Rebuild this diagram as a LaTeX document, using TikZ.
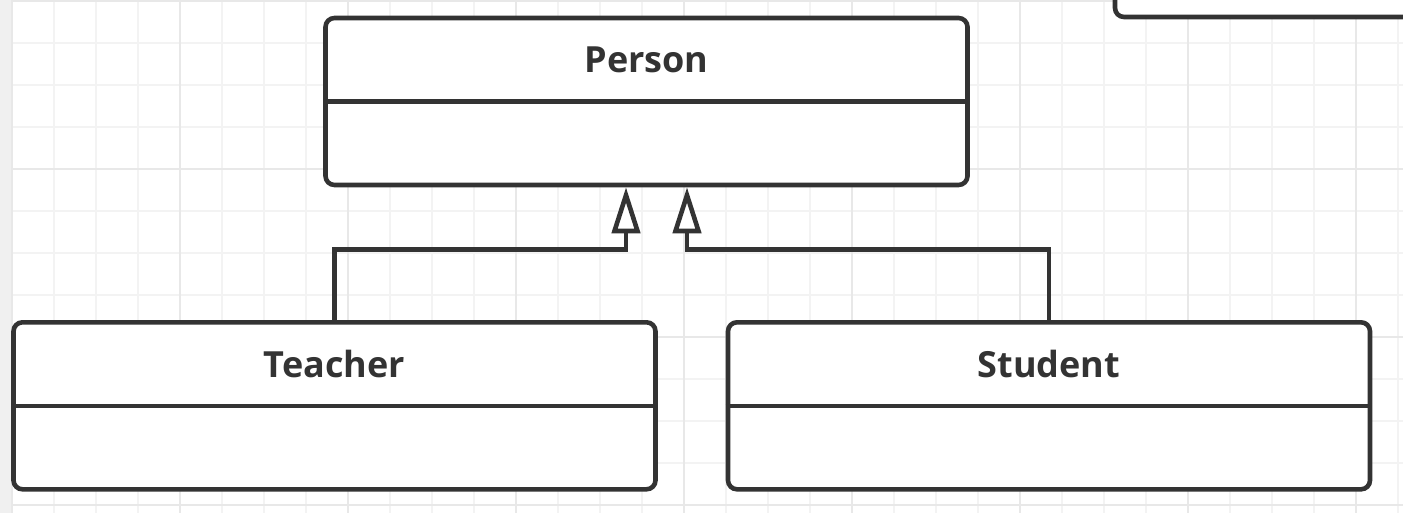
\documentclass[tikz,border=0pt]{standalone}
\usepackage{fontspec}
\setmainfont{Open Sans}
\usepackage{xcolor}
\usetikzlibrary{arrows.meta,positioning,calc}

\definecolor{umlline}{HTML}{333333}
\definecolor{gridminor}{HTML}{F3F3F3}
\definecolor{gridmajor}{HTML}{E8E8E8}
\definecolor{sidestrip}{HTML}{F0F0F0}

\begin{document}
\begin{tikzpicture}[
    x=1pt,y=-1pt,
    classbox/.style={rectangle,draw=umlline,line width=4.6pt,rounded corners=9pt,fill=white,minimum width=642pt,minimum height=167pt,inner sep=0pt},
    divider/.style={draw=umlline,line width=4.6pt},
    classname/.style={font=\fontsize{36}{40}\selectfont\bfseries,text=umlline,inner sep=0pt},
    minorline/.style={gridminor,line width=1.2pt},
    majorline/.style={gridmajor,line width=1.4pt},
    inherit/.style={draw=umlline,line width=4.6pt,-{Triangle[fill=white,length=46pt,width=28pt]}}
]
\useasboundingbox (0,0) rectangle (1403,513);
\clip (0,0) rectangle (1403,513);
\fill[white] (0,0) rectangle (1403,513);
\fill[sidestrip] (0,0) rectangle (12,513);
\foreach \gx in {12,54,...,1403}
    \draw[minorline] (\gx,0) -- (\gx,513);
\foreach \gy in {1,43,...,513}
    \draw[minorline] (12,\gy) -- (1403,\gy);
\foreach \gx in {12,180,...,1403}
    \draw[majorline] (\gx,0) -- (\gx,513);
\foreach \gy in {1,169,...,513}
    \draw[majorline] (12,\gy) -- (1403,\gy);
\node[classbox] (other) at (1436,-66.5) {};
\foreach \cx/\cy/\name/\txt in {646.5/101.5/person/Person,334.5/405.8/teacher/Teacher,1049/405.8/student/Student} {
    \node[classbox] (\name) at (\cx,\cy) {};
    \draw[divider] (\name.west) -- (\name.east);
    \node[classname] (\name-title) at (\cx,\cy-41.75) {\txt};
}
\draw[inherit] (teacher.north) -- ++(0,-70.5) -| ([xshift=-20.5pt]person.south);
\draw[inherit] (student.north) -- ++(0,-70.5) -| ([xshift=40.5pt]person.south);
\end{tikzpicture}
\end{document}
